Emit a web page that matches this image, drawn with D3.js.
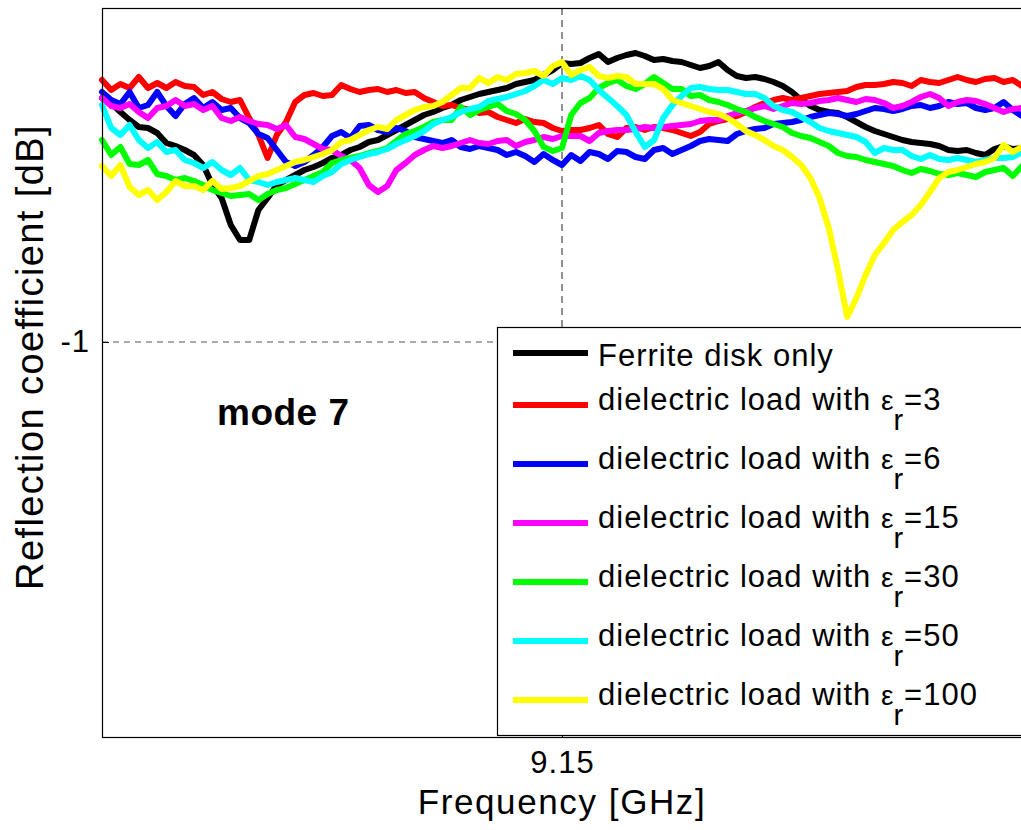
<!DOCTYPE html>
<html>
<head>
<meta charset="utf-8">
<script src="https://cdn.jsdelivr.net/npm/d3@7"></script>
<style>
  body { margin: 0; background: #fff; }
  svg { display: block; font-family: "Liberation Sans", Arial, sans-serif; }
</style>
</head>
<body>
<svg id="chart"></svg>
<script>
// Reflection coefficient around mode 7 (dB)
const freqStep = 0.001;
const freqs = d3.range(101).map((i) => 9.10 + i * freqStep);

const xTicks = [9.15];
const yTicks = [-1];

const ferrite = [
  -0.512,-0.522,-0.540,-0.556,-0.570,-0.572,-0.582,-0.602,-0.608,-0.616,
  -0.626,-0.646,-0.686,-0.712,-0.766,-0.796,-0.796,-0.736,-0.712,-0.686,
  -0.676,-0.666,-0.656,-0.650,-0.642,-0.632,-0.626,-0.616,-0.610,-0.600,
  -0.596,-0.586,-0.576,-0.566,-0.556,-0.546,-0.540,-0.532,-0.526,-0.516,
  -0.510,-0.504,-0.500,-0.496,-0.492,-0.484,-0.480,-0.476,-0.466,-0.456,
  -0.442,-0.444,-0.442,-0.432,-0.424,-0.440,-0.432,-0.426,-0.422,-0.428,
  -0.436,-0.434,-0.438,-0.440,-0.446,-0.452,-0.448,-0.440,-0.456,-0.468,
  -0.472,-0.470,-0.474,-0.480,-0.488,-0.500,-0.516,-0.528,-0.536,-0.540,
  -0.542,-0.550,-0.560,-0.570,-0.578,-0.584,-0.590,-0.596,-0.600,-0.602,
  -0.604,-0.608,-0.616,-0.618,-0.616,-0.622,-0.626,-0.614,-0.608,-0.614,
  -0.612
];

const er3 = [
  -0.476,-0.496,-0.484,-0.492,-0.470,-0.492,-0.482,-0.492,-0.480,-0.488,
  -0.490,-0.506,-0.500,-0.514,-0.520,-0.516,-0.552,-0.586,-0.632,-0.586,
  -0.560,-0.520,-0.506,-0.502,-0.508,-0.506,-0.486,-0.494,-0.500,-0.496,
  -0.494,-0.500,-0.496,-0.502,-0.500,-0.512,-0.520,-0.528,-0.526,-0.532,
  -0.536,-0.542,-0.540,-0.550,-0.556,-0.562,-0.554,-0.560,-0.562,-0.572,
  -0.578,-0.576,-0.576,-0.572,-0.566,-0.584,-0.590,-0.572,-0.570,-0.576,
  -0.570,-0.572,-0.576,-0.582,-0.588,-0.580,-0.564,-0.558,-0.554,-0.548,
  -0.540,-0.530,-0.522,-0.516,-0.512,-0.516,-0.512,-0.508,-0.504,-0.502,
  -0.500,-0.498,-0.490,-0.486,-0.486,-0.484,-0.480,-0.482,-0.488,-0.476,
  -0.480,-0.482,-0.476,-0.470,-0.476,-0.480,-0.474,-0.472,-0.480,-0.476,
  -0.488
];

const er6 = [
  -0.500,-0.516,-0.524,-0.500,-0.532,-0.526,-0.500,-0.528,-0.548,-0.524,
  -0.512,-0.532,-0.520,-0.536,-0.532,-0.552,-0.562,-0.584,-0.592,-0.616,
  -0.640,-0.648,-0.640,-0.626,-0.610,-0.588,-0.580,-0.592,-0.568,-0.566,
  -0.576,-0.580,-0.572,-0.578,-0.590,-0.594,-0.598,-0.602,-0.596,-0.610,
  -0.614,-0.608,-0.612,-0.616,-0.626,-0.620,-0.628,-0.640,-0.624,-0.636,
  -0.646,-0.626,-0.638,-0.620,-0.624,-0.634,-0.618,-0.620,-0.630,-0.634,
  -0.616,-0.612,-0.624,-0.616,-0.608,-0.598,-0.594,-0.596,-0.598,-0.584,
  -0.578,-0.574,-0.572,-0.564,-0.562,-0.560,-0.556,-0.550,-0.546,-0.542,
  -0.544,-0.548,-0.544,-0.538,-0.532,-0.534,-0.538,-0.534,-0.528,-0.526,
  -0.532,-0.528,-0.520,-0.524,-0.522,-0.532,-0.536,-0.532,-0.520,-0.536,
  -0.548
];

const er15 = [
  -0.512,-0.528,-0.532,-0.524,-0.540,-0.552,-0.532,-0.528,-0.516,-0.528,
  -0.524,-0.536,-0.528,-0.552,-0.558,-0.550,-0.558,-0.564,-0.566,-0.574,
  -0.566,-0.590,-0.594,-0.604,-0.614,-0.616,-0.628,-0.636,-0.652,-0.686,
  -0.700,-0.688,-0.656,-0.642,-0.626,-0.616,-0.608,-0.612,-0.608,-0.602,
  -0.596,-0.602,-0.604,-0.598,-0.596,-0.608,-0.600,-0.596,-0.590,-0.594,
  -0.588,-0.588,-0.588,-0.598,-0.582,-0.578,-0.576,-0.576,-0.574,-0.570,
  -0.572,-0.570,-0.568,-0.566,-0.564,-0.558,-0.556,-0.556,-0.548,-0.542,
  -0.538,-0.532,-0.528,-0.534,-0.528,-0.522,-0.524,-0.522,-0.518,-0.516,
  -0.512,-0.516,-0.520,-0.514,-0.516,-0.522,-0.532,-0.528,-0.520,-0.510,
  -0.504,-0.512,-0.528,-0.520,-0.516,-0.518,-0.524,-0.532,-0.540,-0.534,
  -0.532
];

const er30 = [
  -0.596,-0.626,-0.610,-0.644,-0.646,-0.636,-0.664,-0.668,-0.676,-0.672,
  -0.678,-0.686,-0.696,-0.702,-0.708,-0.706,-0.704,-0.716,-0.704,-0.696,
  -0.692,-0.684,-0.676,-0.668,-0.660,-0.642,-0.636,-0.632,-0.628,-0.622,
  -0.618,-0.612,-0.598,-0.584,-0.578,-0.570,-0.560,-0.556,-0.556,-0.530,
  -0.546,-0.536,-0.530,-0.524,-0.538,-0.544,-0.556,-0.578,-0.610,-0.618,
  -0.612,-0.546,-0.522,-0.512,-0.492,-0.482,-0.476,-0.488,-0.494,-0.484,
  -0.470,-0.482,-0.494,-0.494,-0.508,-0.506,-0.516,-0.520,-0.526,-0.534,
  -0.540,-0.550,-0.558,-0.564,-0.570,-0.582,-0.588,-0.592,-0.600,-0.608,
  -0.622,-0.628,-0.630,-0.636,-0.640,-0.644,-0.648,-0.656,-0.662,-0.654,
  -0.658,-0.664,-0.666,-0.662,-0.666,-0.670,-0.660,-0.656,-0.652,-0.668,
  -0.648
];

const er50 = [
  -0.526,-0.572,-0.586,-0.566,-0.596,-0.612,-0.600,-0.620,-0.616,-0.636,
  -0.642,-0.652,-0.640,-0.656,-0.666,-0.652,-0.676,-0.680,-0.686,-0.680,
  -0.676,-0.672,-0.676,-0.680,-0.668,-0.660,-0.644,-0.636,-0.630,-0.624,
  -0.620,-0.614,-0.604,-0.596,-0.588,-0.578,-0.564,-0.556,-0.550,-0.540,
  -0.534,-0.530,-0.518,-0.514,-0.510,-0.504,-0.498,-0.488,-0.476,-0.484,
  -0.472,-0.476,-0.468,-0.476,-0.496,-0.512,-0.528,-0.546,-0.580,-0.610,
  -0.596,-0.552,-0.526,-0.508,-0.492,-0.490,-0.494,-0.496,-0.496,-0.500,
  -0.504,-0.504,-0.512,-0.528,-0.536,-0.540,-0.550,-0.560,-0.572,-0.578,
  -0.582,-0.586,-0.590,-0.600,-0.622,-0.612,-0.616,-0.616,-0.628,-0.634,
  -0.626,-0.634,-0.636,-0.632,-0.636,-0.640,-0.636,-0.632,-0.632,-0.630,
  -0.620
];

const er100 = [
  -0.648,-0.668,-0.646,-0.690,-0.706,-0.696,-0.716,-0.700,-0.678,-0.688,
  -0.688,-0.696,-0.678,-0.694,-0.692,-0.688,-0.678,-0.668,-0.664,-0.656,
  -0.648,-0.640,-0.636,-0.630,-0.624,-0.616,-0.600,-0.596,-0.586,-0.576,
  -0.570,-0.574,-0.556,-0.546,-0.536,-0.530,-0.528,-0.520,-0.506,-0.492,
  -0.492,-0.472,-0.482,-0.470,-0.476,-0.464,-0.462,-0.458,-0.468,-0.448,
  -0.440,-0.466,-0.456,-0.450,-0.468,-0.472,-0.468,-0.470,-0.484,-0.484,
  -0.484,-0.494,-0.516,-0.522,-0.528,-0.534,-0.540,-0.544,-0.552,-0.564,
  -0.578,-0.586,-0.596,-0.608,-0.616,-0.630,-0.646,-0.672,-0.712,-0.772,
  -0.856,-0.950,-0.912,-0.866,-0.826,-0.802,-0.776,-0.760,-0.746,-0.726,
  -0.700,-0.672,-0.660,-0.656,-0.650,-0.644,-0.640,-0.632,-0.606,-0.620,
  -0.610
];

const seriesNames = ["Ferrite disk only", "er3", "er6", "er15", "er30", "er50", "er100"];
const permittivity = [null, 3, 6, 15, 30, 50, 100];
const seriesColors = ["#000000", "#ff0000", "#0000ff", "#ff00ff", "#00ff00", "#00ffff", "#ffff00"];
const seriesValues = [ferrite, er3, er6, er15, er30, er50, er100];

const width = 1021;
const height = 830;
const plotLeft = 102, plotRight = 1022, plotTop = 8, plotBottom = 737;

const svg = d3.select("#chart").attr("width", width).attr("height", height);

const x = d3.scaleLinear().domain([9.10, 9.20]).range([plotLeft, plotRight]);
const y = d3.scaleLinear().domain([-1.79, -0.332]).range([plotBottom, plotTop]);

// dashed grid at the single ticks
svg.selectAll(".gridx")
  .data(xTicks)
  .enter()
  .append("line")
  .attr("x1", (d) => x(d)).attr("x2", (d) => x(d))
  .attr("y1", plotTop).attr("y2", plotBottom)
  .attr("stroke", "#222").attr("stroke-width", 1)
  .attr("stroke-dasharray", "7,5");

svg.selectAll(".gridy")
  .data(yTicks)
  .enter()
  .append("line")
  .attr("x1", plotLeft).attr("x2", plotRight)
  .attr("y1", (d) => y(d)).attr("y2", (d) => y(d))
  .attr("stroke", "#555").attr("stroke-width", 1)
  .attr("stroke-dasharray", "6,5");

// curves
const line = d3.line()
  .x((d, i) => x(freqs[i]))
  .y((d) => y(d));

svg.selectAll(".curve")
  .data(seriesValues)
  .enter()
  .append("path")
  .attr("class", "curve")
  .attr("d", (d) => line(d))
  .attr("fill", "none")
  .attr("stroke", (d, i) => seriesColors[i])
  .attr("stroke-width", 6)
  .attr("stroke-linejoin", "round")
  .attr("stroke-linecap", "round");

// frame
svg.append("rect")
  .attr("x", plotLeft + 0.5).attr("y", plotTop + 0.5)
  .attr("width", plotRight - plotLeft).attr("height", plotBottom - plotTop)
  .attr("fill", "none").attr("stroke", "#000").attr("stroke-width", 1.2);

// axes
const xAxis = d3.axisBottom(x).tickValues(xTicks).tickSizeInner(-7).tickSizeOuter(0)
  .tickPadding(14).tickFormat(d3.format(".2f"));
const gx = svg.append("g").attr("transform", `translate(0, ${plotBottom})`).call(xAxis);

const yAxis = d3.axisLeft(y).tickValues(yTicks).tickSizeInner(-7).tickSizeOuter(0)
  .tickPadding(12).tickFormat((d) => d);
const gy = svg.append("g").attr("transform", `translate(${plotLeft}, 0)`).call(yAxis);

[gx, gy].forEach((g) => {
  g.select(".domain").remove();
  g.selectAll(".tick line").attr("stroke", "#000");
  g.selectAll("text")
    .attr("fill", "#000")
    .style("font-family", "'Liberation Sans', Arial, sans-serif")
    .style("font-size", "31px")
    .style("letter-spacing", "1px");
});

// legend
const legend = svg.append("g");
legend.append("rect")
  .attr("x", 497.5).attr("y", 327.5)
  .attr("width", 540).attr("height", 408)
  .attr("fill", "#fff").attr("stroke", "#000").attr("stroke-width", 1.2);

const rowY = (i) => (i === 0 ? 353 : 405 + 59 * (i - 1));

seriesNames.forEach((name, i) => {
  legend.append("line")
    .attr("x1", 513).attr("x2", 588)
    .attr("y1", rowY(i)).attr("y2", rowY(i))
    .attr("stroke", seriesColors[i]).attr("stroke-width", 6);

  const t = legend.append("text")
    .attr("x", 598)
    .attr("y", i === 0 ? 366 : rowY(i) + 5)
    .style("font-size", "31px")
    .style("letter-spacing", "1px")
    .attr("fill", "#000");

  if (permittivity[i] === null) {
    t.text(name);
  } else {
    t.append("tspan").text("dielectric load with ");
    t.append("tspan").attr("font-size", "28px").style("letter-spacing", "0px").text("\u03b5");
    t.append("tspan").attr("font-size", "29px").attr("dy", 20).text("r");
    t.append("tspan").attr("dy", -20).text("=" + permittivity[i]);
  }
});

// annotation and titles
svg.append("text")
  .attr("x", 217).attr("y", 425)
  .style("font-size", "37px").style("font-weight", "bold")
  .style("letter-spacing", "0.5px")
  .text("mode 7");

svg.append("text")
  .attr("x", 562).attr("y", 814)
  .attr("text-anchor", "middle")
  .style("font-size", "35px").style("letter-spacing", "1.6px")
  .text("Frequency [GHz]");

svg.append("text")
  .attr("transform", "rotate(-90)")
  .attr("x", -357).attr("y", 43)
  .attr("text-anchor", "middle")
  .style("font-size", "38px").style("letter-spacing", "1.4px")
  .text("Reflection coefficient [dB]");
</script>
</body>
</html>
